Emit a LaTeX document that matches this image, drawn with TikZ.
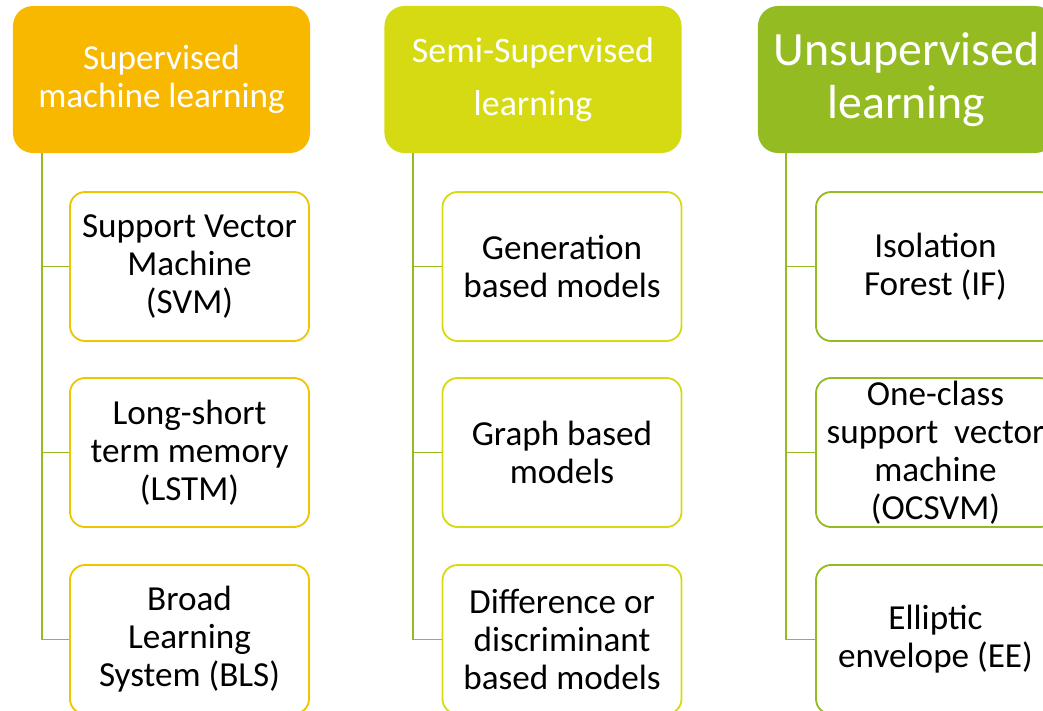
\documentclass[tikz,border=0pt]{standalone}
\usepackage{fontspec}
\setmainfont{Carlito}
\usepackage{xcolor}
\definecolor{supcol}{HTML}{F9B800}
\definecolor{semicol}{HTML}{D6DA13}
\definecolor{unsupcol}{HTML}{94BC22}
\definecolor{supline}{HTML}{EEC600}
\definecolor{linkcol}{HTML}{94BC22}
\tikzset{
  head/.style={rounded corners=0.5cm, minimum width=7.425cm, minimum height=3.675cm,
    text=white, align=center, inner sep=0pt},
  leaf/.style={line width=1.3pt, fill=white, rounded corners=0.38cm,
    minimum width=5.975cm, minimum height=3.725cm, align=center, inner sep=0pt,
    font=\fontsize{25}{27}\selectfont},
  link/.style={draw=linkcol, line width=1.3pt}
}

\begin{document}
\begin{tikzpicture}[x=0.025cm, y=-0.025cm]
  \useasboundingbox (0,0) rectangle (1043,710);
  \clip (0,0) rectangle (1043,710);

  % headers
  \node[head, fill=supcol, font=\fontsize{25}{27}\selectfont] (h1) at (161.5,79.5)
    {Supervised\\machine learning};
  \node[head, fill=semicol, font=\fontsize{25.5}{37.7}\selectfont] (h2) at (533,79.5)
    {Semi-Supervised\\learning};
  \node[head, fill=unsupcol, font=\fontsize{34}{37.7}\selectfont] (h3) at (906.5,79.5)
    {Unsupervised\\learning};

  % supervised
  \node[leaf, draw=supline] (s1) at (189.5,266.5) {Support Vector\\Machine\\(SVM)};
  \node[leaf, draw=supline] (s2) at (189.5,452.5) {Long-short\\term memory\\(LSTM)};
  \node[leaf, draw=supline] (s3) at (189.5,639.5) {Broad\\Learning\\System (BLS)};

  % semi-supervised
  \node[leaf, draw=semicol] (m1) at (562,266.5) {Generation\\based models};
  \node[leaf, draw=semicol] (m2) at (562,452.5) {Graph based\\models};
  \node[leaf, draw=semicol] (m3) at (562,639.5) {Difference or\\discriminant\\based models};

  % unsupervised
  \node[leaf, draw=unsupcol] (u1) at (935.5,266.5) {Isolation\\Forest (IF)};
  \node[leaf, draw=unsupcol] (u2) at (935.5,452.5) {One-class\\support~ vector\\machine\\(OCSVM)};
  \node[leaf, draw=unsupcol] (u3) at (935.5,639.5) {Elliptic\\envelope (EE)};

  \coordinate (t1) at (42,153);
  \coordinate (t2) at (413,153);
  \coordinate (t3) at (786,153);

  \draw[link] (t1) |- (s1.west);
  \draw[link] (t1) |- (s2.west);
  \draw[link] (t1) |- (s3.west);
  \draw[link] (t2) |- (m1.west);
  \draw[link] (t2) |- (m2.west);
  \draw[link] (t2) |- (m3.west);
  \draw[link] (t3) |- (u1.west);
  \draw[link] (t3) |- (u2.west);
  \draw[link] (t3) |- (u3.west);
\end{tikzpicture}
\end{document}
